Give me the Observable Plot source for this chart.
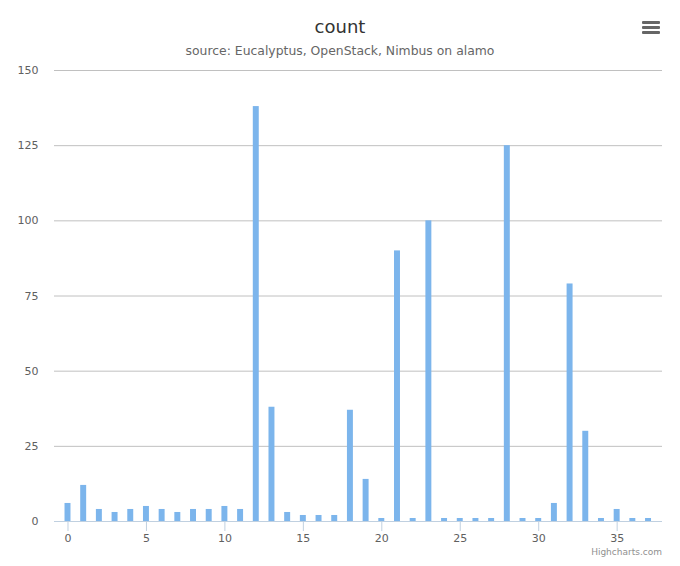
<!DOCTYPE html>
<html>
<head>
<meta charset="utf-8">
<script src="https://cdn.jsdelivr.net/npm/d3@7"></script>
<script src="https://cdn.jsdelivr.net/npm/@observablehq/plot@0.6"></script>
<style>
  html, body { margin: 0; padding: 0; background: #fff; }
  #wrap { position: relative; width: 680px; height: 566px; font-family: "DejaVu Sans", Verdana, sans-serif; }
  #title { position: absolute; top: 16px; left: 0; width: 680px; text-align: center; font-size: 18px; color: #333333; }
  #subtitle { position: absolute; top: 43px; left: 0; width: 680px; text-align: center; font-size: 12.4px; color: #666666; }
  #menu { position: absolute; left: 642px; top: 21px; width: 18px; }
  #menu div { height: 3px; background: #666; margin-bottom: 2px; border-radius: 1px; }
  #credits { position: absolute; right: 18px; top: 547px; font-size: 9px; color: #909090; line-height: 10px; }
  #chart { position: absolute; top: 62px; left: 0; }
</style>
</head>
<body>
<div id="wrap">
  <div id="title">count</div>
  <div id="subtitle">source: Eucalyptus, OpenStack, Nimbus on alamo</div>
  <div id="menu"><div></div><div></div><div></div></div>
  <div id="chart"></div>
  <div id="credits">Highcharts.com</div>
</div>
<script>
const categories = [0,1,2,3,4,5,6,7,8,9,10,11,12,13,14,15,16,17,18,19,20,21,22,23,24,25,26,27,28,29,30,31,32,33,34,35,36,37];
const counts = [6,12,4,3,4,5,4,3,4,4,5,4,138,38,3,2,2,2,37,14,1,90,1,100,1,1,1,1,125,1,1,6,79,30,1,4,1,1];
const xTicks = [0,5,10,15,20,25,30,35];
const yTicks = [0,25,50,75,100,125,150];

const data = categories.map((c, i) => ({x: c, y: counts[i]}));
const hw = 0.19;

const chart = Plot.plot({
  width: 680,
  height: 504,
  marginTop: 8,
  marginBottom: 45,
  marginLeft: 54,
  marginRight: 18,
  style: {fontFamily: "DejaVu Sans, Verdana, sans-serif", fontSize: "11px", color: "#606060", background: "transparent"},
  x: {domain: [-0.86, 37.89], ticks: xTicks},
  y: {domain: [0, 150], ticks: yTicks},
  marks: [
    Plot.ruleY(yTicks.filter(d => d > 0), {stroke: "#C0C0C0", strokeWidth: 1}),
    Plot.rectY(data, {x1: d => d.x - hw, x2: d => d.x + hw, y1: 0, y2: "y", fill: "#7cb5ec"}),
    Plot.ruleY([0], {stroke: "#C0D0E0", strokeWidth: 1}),
    Plot.axisX({ticks: xTicks, tickSize: 10, stroke: "#C0D0E0", tickPadding: 3, fill: "#606060", label: null, fontSize: 11}),
    Plot.axisY({ticks: yTicks, tickSize: 0, tickPadding: 16, fill: "#606060", label: null, fontSize: 11})
  ]
});
document.getElementById("chart").appendChild(chart);
</script>
</body>
</html>
